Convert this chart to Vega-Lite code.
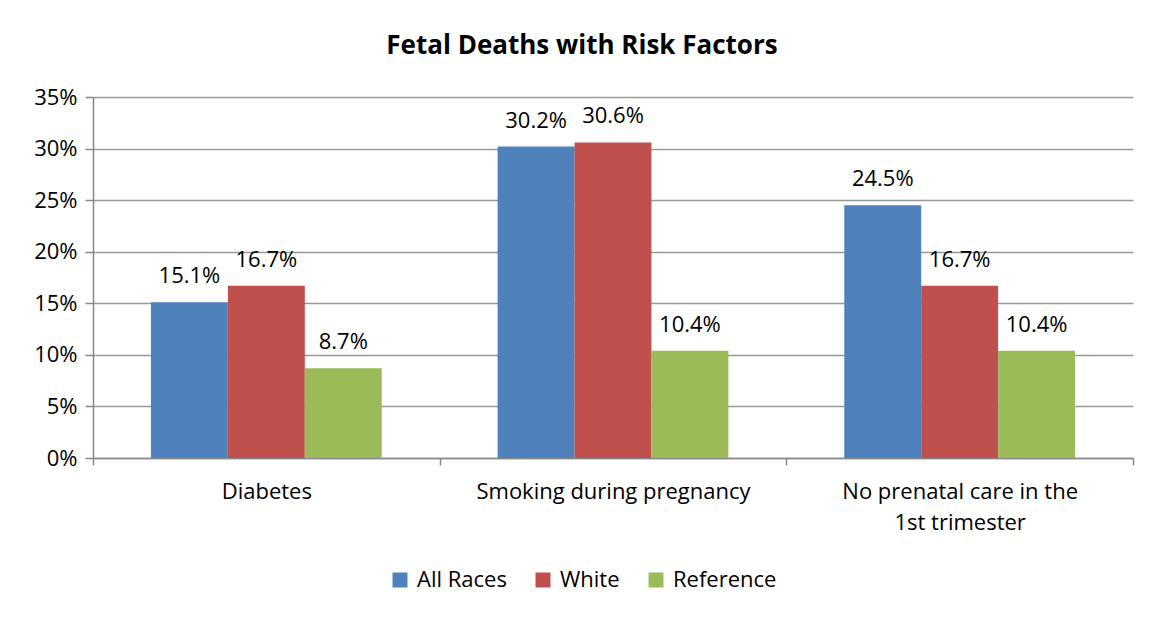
{
  "$schema": "https://vega.github.io/schema/vega-lite/v6.json",
  "autosize": "none",
  "width": 1040,
  "height": 361,
  "padding": {"left": 93, "top": 97, "right": 16, "bottom": 159},
  "background": "white",
  "title": {
    "text": "Fetal Deaths with Risk Factors",
    "font": "Open Sans",
    "fontSize": 26,
    "fontWeight": "bold",
    "color": "#000000",
    "anchor": "middle",
    "dx": -31,
    "offset": 27
  },
  "data": {
    "values": [
      {"factor": "Diabetes", "group": "All Races", "value": 0.151},
      {"factor": "Diabetes", "group": "White", "value": 0.167},
      {"factor": "Diabetes", "group": "Reference", "value": 0.087},
      {"factor": "Smoking during pregnancy", "group": "All Races", "value": 0.302},
      {"factor": "Smoking during pregnancy", "group": "White", "value": 0.306},
      {"factor": "Smoking during pregnancy", "group": "Reference", "value": 0.104},
      {"factor": "No prenatal care in the 1st trimester", "group": "All Races", "value": 0.245},
      {"factor": "No prenatal care in the 1st trimester", "group": "White", "value": 0.167},
      {"factor": "No prenatal care in the 1st trimester", "group": "Reference", "value": 0.104}
    ]
  },
  "encoding": {
    "x": {
      "field": "factor",
      "type": "nominal",
      "sort": null,
      "scale": {"paddingInner": 0, "paddingOuter": 0},
      "axis": {
        "title": null,
        "labelAngle": 0,
        "labelFont": "Open Sans",
        "labelFontSize": 22,
        "labelColor": "#000000",
        "labelPadding": 16,
        "labelLineHeight": 31,
        "labelLimit": 0,
        "labelExpr": "datum.value == 'No prenatal care in the 1st trimester' ? ['No prenatal care in the', '1st trimester'] : datum.value",
        "tickBand": "extent",
        "tickSize": 7,
        "tickColor": "#888888",
        "tickWidth": 1.5,
        "domainColor": "#888888",
        "domainWidth": 1.5,
        "grid": false
      }
    },
    "xOffset": {
      "field": "group",
      "type": "nominal",
      "sort": ["All Races", "White", "Reference"],
      "scale": {"paddingInner": 0, "paddingOuter": 0.753}
    },
    "y": {
      "field": "value",
      "type": "quantitative",
      "scale": {"domain": [0, 0.35], "nice": false},
      "axis": {
        "title": null,
        "format": ".0%",
        "values": [0, 0.05, 0.1, 0.15, 0.2, 0.25, 0.3, 0.35],
        "labelFont": "Open Sans",
        "labelFontSize": 22,
        "labelColor": "#000000",
        "labelPadding": 8,
        "tickSize": 8,
        "tickColor": "#888888",
        "tickWidth": 1.5,
        "domainColor": "#888888",
        "domainWidth": 1.5,
        "gridColor": "#999999",
        "gridWidth": 1.5
      }
    }
  },
  "layer": [
    {
      "mark": {"type": "bar"},
      "encoding": {
        "color": {
          "field": "group",
          "type": "nominal",
          "sort": ["All Races", "White", "Reference"],
          "scale": {
            "domain": ["All Races", "White", "Reference"],
            "range": ["#4F81BD", "#C0504D", "#9BBB59"]
          },
          "legend": {
            "title": null,
            "orient": "none",
            "direction": "horizontal",
            "legendX": 296,
            "legendY": 472,
            "symbolType": "square",
            "symbolSize": 225,
            "symbolStrokeWidth": 0,
            "labelFont": "Open Sans",
            "labelFontSize": 22,
            "labelColor": "#000000",
            "columnPadding": 25,
            "labelOffset": 6
          }
        }
      }
    },
    {
      "mark": {
        "type": "text",
        "baseline": "alphabetic",
        "dy": -19,
        "font": "Open Sans",
        "fontSize": 22,
        "color": "#000000"
      },
      "encoding": {
        "text": {"field": "value", "type": "quantitative", "format": ".1%"}
      }
    }
  ],
  "config": {
    "view": {"stroke": null}
  }
}
